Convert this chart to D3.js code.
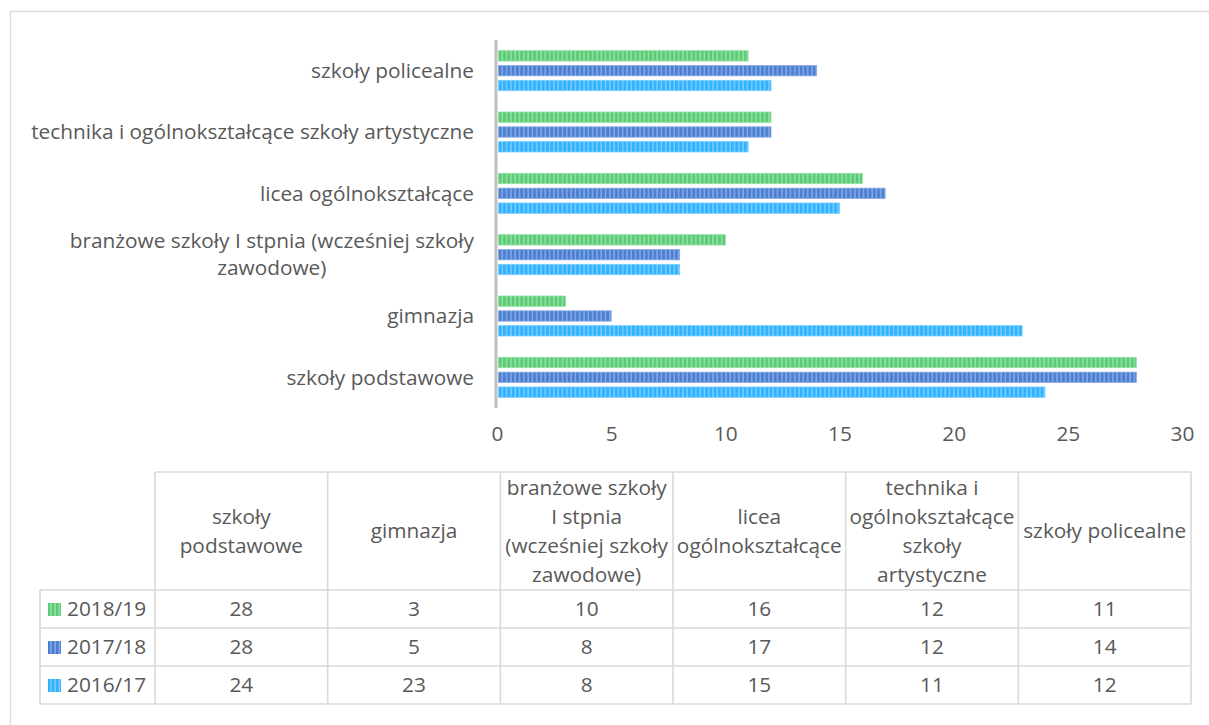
<!DOCTYPE html>
<html><head><meta charset="utf-8">
<script src="https://cdn.jsdelivr.net/npm/d3@7"></script>
<style>body{margin:0;background:#fff}svg{display:block}text{font-family:"Open Sans",sans-serif;fill:#595959}</style>
</head><body><svg id="c" width="1209" height="725"></svg>
<script>
const categories = ["szkoły podstawowe","gimnazja","branżowe szkoły I stpnia (wcześniej szkoły zawodowe)","licea ogólnokształcące","technika i ogólnokształcące szkoły artystyczne","szkoły policealne"];
const axisLabelLines = [["szkoły podstawowe"],["gimnazja"],["branżowe szkoły I stpnia (wcześniej szkoły","zawodowe)"],["licea ogólnokształcące"],["technika i ogólnokształcące szkoły artystyczne"],["szkoły policealne"]];
const headerLines = [["szkoły","podstawowe"],["gimnazja"],["branżowe szkoły","I stpnia","(wcześniej szkoły","zawodowe)"],["licea","ogólnokształcące"],["technika i","ogólnokształcące","szkoły","artystyczne"],["szkoły policealne"]];
const seriesNames = ["2018/19","2017/18","2016/17"];
const v2018 = [28,3,10,16,12,11];
const v2017 = [28,5,8,17,12,14];
const v2016 = [24,23,8,15,11,12];
const seriesValues = [v2018,v2017,v2016];
const ticks = [0,5,10,15,20,25,30];
const colors = [{d:"#5bcc75",l:"#93e0a5"},{d:"#4a7fd2",l:"#86a9e3"},{d:"#2fb2ff",l:"#79cdff"}];

const svg = d3.select("#c");
// font fit
const probe = svg.append("text").style("font-size","100px").text("szkoły policealne");
const fs = 100*163/probe.node().getComputedTextLength();
probe.remove();
const F = fs+"px";

// frame
svg.append("rect").attr("x",10.5).attr("y",11.5).attr("width",1250).attr("height",800)
  .attr("fill","none").attr("stroke","#d9d9d9").attr("stroke-width",1.3);

const defs = svg.append("defs");
colors.forEach((c,i)=>{
  const p = defs.append("pattern").attr("id","p"+i).attr("patternUnits","userSpaceOnUse")
    .attr("width",4.3).attr("height",10);
  p.append("rect").attr("width",4.3).attr("height",10).attr("fill",c.d);
  p.append("rect").attr("x",2.8).attr("width",1.5).attr("height",10).attr("fill",c.l);
});

const x = d3.scaleLinear().domain([0,30]).range([497,1182]);
const yCat = d3.scaleBand().domain(d3.range(categories.length).reverse()).range([40,408]);
const ySer = d3.scaleBand().domain(d3.range(3)).range([0,40]).paddingInner(0.3);

const g = svg.append("g");
seriesValues.forEach((vals,si)=>{
  g.selectAll(null).data(vals).join("rect")
    .attr("x",x(0)+1.5)
    .attr("y",(d,i)=>yCat(i)+yCat.bandwidth()/2-20+ySer(si))
    .attr("width",d=>x(d)-x(0)-1.5)
    .attr("height",ySer.bandwidth())
    .attr("fill","url(#p"+si+")")
    .attr("stroke",colors[si].l).attr("stroke-width",0.8);
});
// axis line
svg.append("line").attr("x1",x(0)-1).attr("x2",x(0)-1).attr("y1",40).attr("y2",408)
  .attr("stroke","#bfbfbf").attr("stroke-width",3);

// x tick labels
const xa = d3.axisBottom(x).tickValues(ticks).tickSize(0).tickPadding(0);
const xg = svg.append("g").attr("transform","translate(0,426)").call(xa);
xg.select(".domain").remove();
xg.selectAll("text").style("font-size",F).style("font-family","'Open Sans',sans-serif").attr("fill","#595959").attr("dy","0.71em");

// category labels
const lh = 27;
axisLabelLines.forEach((lines,i)=>{
  const cy = yCat(i)+yCat.bandwidth()/2;
  const t = svg.append("text").style("font-size",F).attr("text-anchor","end");
  if(lines.length===1){
    t.attr("x",474).attr("y",cy).attr("dy","0.35em").text(lines[0]);
  } else {
    t.attr("x",474).attr("y",cy-lh/2).attr("dy","0.35em").text(lines[0]);
    const w = t.node().getComputedTextLength();
    svg.append("text").style("font-size",F).attr("text-anchor","middle")
      .attr("x",474-w/2).attr("y",cy+lh/2).attr("dy","0.35em").text(lines[1]);
  }
});

// table
const colX = d3.scaleBand().domain(d3.range(6)).range([155,1191]);
const legX0 = 40;
const hTop = 472, hBot = 590, rowH = 38;
const border = "#d9d9d9";
const tb = svg.append("g");
const line = (x1,y1,x2,y2)=>tb.append("line").attr("x1",x1).attr("y1",y1).attr("x2",x2).attr("y2",y2).attr("stroke",border).attr("stroke-width",1.6);
const tBot = hBot+rowH*3;
line(155,hTop,1191,hTop);
line(legX0,hBot,1191,hBot);
for(let r=1;r<=3;r++) line(legX0,hBot+rowH*r,1191,hBot+rowH*r);
line(legX0,hBot,legX0,tBot);
d3.range(7).forEach(i=>{ const xx = i<6?colX(i):1191; line(xx,hTop,xx,tBot); });

headerLines.forEach((lines,i)=>{
  const cx = colX(i)+colX.bandwidth()/2;
  const cy = (hTop+hBot)/2;
  const hl = 29;
  lines.forEach((s,k)=>{
    tb.append("text").style("font-size",F).attr("text-anchor","middle")
      .attr("x",cx).attr("y",cy+(k-(lines.length-1)/2)*hl).attr("dy","0.35em").text(s);
  });
});
seriesNames.forEach((s,r)=>{
  const cy = hBot+rowH*r+rowH/2;
  tb.append("rect").attr("x",48).attr("y",cy-6).attr("width",13).attr("height",13).attr("fill","url(#p"+r+")");
  tb.append("text").style("font-size",F).attr("x",67).attr("y",cy).attr("dy","0.35em").text(s);
  seriesValues[r].forEach((v,i)=>{
    tb.append("text").style("font-size",F).attr("text-anchor","middle")
      .attr("x",colX(i)+colX.bandwidth()/2).attr("y",cy).attr("dy","0.35em").text(v);
  });
});
</script></body></html>
